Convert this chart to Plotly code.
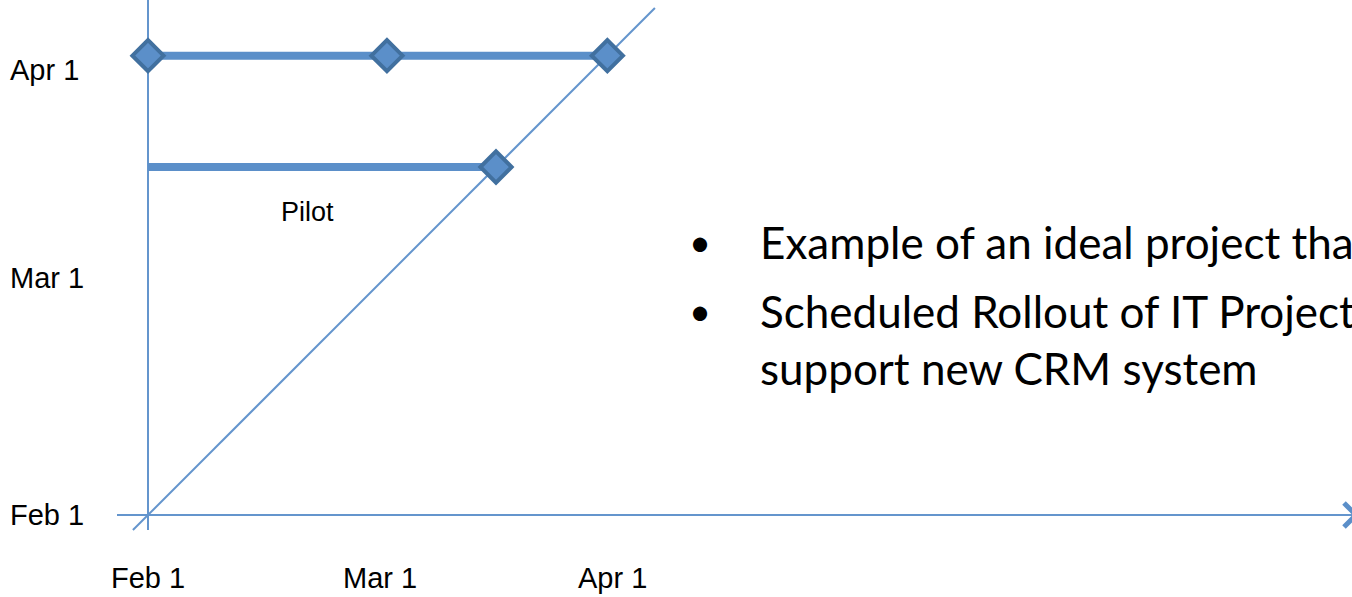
import plotly.graph_objects as go

# Milestone trend: report date (x) vs. forecast completion date (y), in months from Feb 1
tick_pos = [0, 1, 2]
tick_text = ["Feb 1", "Mar 1", "Apr 1"]

rollout_report = [0, 1.03, 1.98]
rollout_forecast = [1.98, 1.98, 1.98]

pilot_report = [0, 1.5]
pilot_forecast = [1.5, 1.5]
pilot_label = "Pilot"

diag_ends = [-0.065, 2.185]

bullets = [
    "Example of an ideal project that",
    "Scheduled Rollout of IT Project to<br>support new CRM system",
]

# ---- layout geometry ----
W, H = 1352, 597
X0_PX, Y0_PX, UNIT = 148, 515, 232  # origin pixel and pixels per month


def px2x(px):
    return (px - X0_PX) / UNIT


def py2y(py):
    return (Y0_PX - py) / UNIT


BLUE = "#5B8FC9"
AXIS_BLUE = "#6495CD"
DIAMOND_EDGE = "#41709F"

fig = go.Figure()

# ideal line (report date == forecast date)
fig.add_trace(go.Scatter(
    x=diag_ends, y=diag_ends, mode="lines",
    line=dict(color=AXIS_BLUE, width=2), hoverinfo="skip", showlegend=False))

# pilot forecast line, marker only on the completion point
fig.add_trace(go.Scatter(
    x=pilot_report, y=pilot_forecast, mode="lines+markers",
    line=dict(color=BLUE, width=8),
    marker=dict(symbol="diamond", size=[0, 24], color=BLUE, opacity=1,
                line=dict(color=DIAMOND_EDGE, width=4)),
    showlegend=False))

# rollout forecast line
fig.add_trace(go.Scatter(
    x=rollout_report, y=rollout_forecast, mode="lines+markers",
    line=dict(color=BLUE, width=8),
    marker=dict(symbol="diamond", size=24, color=BLUE, opacity=1,
                line=dict(color=DIAMOND_EDGE, width=4)),
    showlegend=False))

shapes = [
    # vertical axis
    dict(type="line", x0=0, x1=0, y0=py2y(530), y1=py2y(-5),
         line=dict(color=AXIS_BLUE, width=2), layer="below"),
    # horizontal axis
    dict(type="line", x0=px2x(117), x1=px2x(1360), y0=0, y1=0,
         line=dict(color=AXIS_BLUE, width=2), layer="below"),
    # arrow head on horizontal axis
    dict(type="path",
         path=f"M {px2x(1344)} {py2y(503)} L {px2x(1356)} {py2y(515)} L {px2x(1344)} {py2y(527)}",
         line=dict(color=BLUE, width=5)),
]

annotations = []
font_axis = dict(family="Liberation Sans, Arial", size=29, color="#000000")

# x tick labels
for v, t in zip(tick_pos, tick_text):
    annotations.append(dict(x=v, y=py2y(578), text=t, showarrow=False,
                            xanchor="center", yanchor="middle", font=font_axis))

# y tick labels (left aligned at the slide edge)
y_label_px = [515, 278, 70]
for v, t, ypx in zip(tick_pos, tick_text, y_label_px):
    annotations.append(dict(x=px2x(8), y=py2y(ypx), text=t, showarrow=False,
                            xanchor="left", yanchor="middle", font=font_axis))

annotations.append(dict(x=px2x(307), y=py2y(212), text=pilot_label, showarrow=False,
                        xanchor="center", yanchor="middle",
                        font=dict(family="Liberation Sans, Arial", size=27, color="#000000")))

# bullet text block
font_body = dict(family="Lato", size=44, color="#000000")
bullet_y_px = [241, 310]
for txt, ypx in zip(bullets, bullet_y_px):
    annotations.append(dict(xref="paper", yref="paper", x=687 / W, y=1 - ypx / H,
                            text="•", showarrow=False, xanchor="left", yanchor="middle",
                            font=dict(family="Lato", size=38, color="#000000")))
    annotations.append(dict(xref="paper", yref="paper", x=758 / W, y=1 - (ypx - 27) / H,
                            text=txt, showarrow=False, xanchor="left", yanchor="top",
                            align="left", font=font_body))

fig.update_layout(
    width=W, height=H,
    margin=dict(l=0, r=0, t=0, b=0),
    paper_bgcolor="white", plot_bgcolor="white",
    xaxis=dict(range=[px2x(0), px2x(W)], visible=False, fixedrange=True),
    yaxis=dict(range=[py2y(H), py2y(0)], visible=False, fixedrange=True),
    shapes=shapes, annotations=annotations, showlegend=False,
)

fig.write_html("out.html", config={"displayModeBar": False})
